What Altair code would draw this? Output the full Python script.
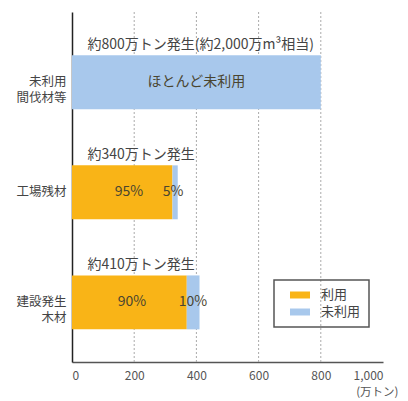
import altair as alt
import pandas as pd

categories = ["未利用|間伐材等", "工場残材", "建設発生|木材"]
used = [0, 323, 369]
unused = [800, 17, 41]
status = ["利用", "未利用"]
colors = ["#F9B417", "#A8C8EC"]

total_labels = ["約800万トン発生(約2,000万m³相当)", "約340万トン発生", "約410万トン発生"]
total_label_x = [50, 50, 50]

inner_cats = [categories[0], categories[1], categories[1], categories[2], categories[2]]
inner_texts = ["ほとんど未利用", "95%", "5%", "90%", "10%"]
inner_x = [400, 183, 325, 193, 389]

grid_values = [200, 400, 600, 800]
x_ticks = [0, 200, 400, 600, 800, 1000]

FONT = "Noto Sans CJK JP"

rows = []
for i, c in enumerate(categories):
    rows.append({"category": c, "status": status[0], "value": used[i], "ord": 0})
    rows.append({"category": c, "status": status[1], "value": unused[i], "ord": 1})
bars_df = pd.DataFrame(rows)
tot_df = pd.DataFrame({"category": categories, "text": total_labels, "x": total_label_x})
inner_df = pd.DataFrame({"category": inner_cats, "text": inner_texts, "x": inner_x})
grid_df = pd.DataFrame({"x": grid_values})

x_scale = alt.Scale(domain=[0, 1000], nice=False)
x_axis = alt.Axis(values=x_ticks, format=",d", grid=False, ticks=False,
                  domainColor="#555", domainWidth=1.5,
                  labelFont=FONT, labelFontSize=12, labelColor="#555", labelPadding=8,
                  title="(万トン)", titleFont=FONT, titleFontSize=11.5, titleFontWeight="normal",
                  titleColor="#555", titleAnchor="end", titleAlign="right",
                  titleBaseline="middle", titleX=326, titleY=30)
y_scale = alt.Scale(domain=categories, paddingInner=0.51, paddingOuter=0.345, align=0.57)
y_axis = alt.Axis(title=None, labelExpr="split(datum.label, '|')", ticks=False,
                  domainColor="#222", domainWidth=1.5, labelFont=FONT, labelFontSize=12.5,
                  labelColor="#444", labelPadding=6, labelLineHeight=16, labelAlign="right",
                  labelBaseline="middle")
y_enc = alt.Y("category:N", sort=categories, scale=y_scale, axis=y_axis)

grid = alt.Chart(grid_df).mark_rule(strokeDash=[2, 2], color="#aaa", strokeWidth=1).encode(
    x=alt.X("x:Q", scale=x_scale, axis=x_axis)
)

bars = alt.Chart(bars_df).mark_bar().encode(
    x=alt.X("value:Q", scale=x_scale, axis=x_axis, stack="zero"),
    y=y_enc,
    order=alt.Order("ord:Q"),
    color=alt.Color("status:N", scale=alt.Scale(domain=status, range=colors),
                    legend=alt.Legend(title=None, orient="none", legendX=202, legendY=268,
                                      strokeColor="#555", padding=8,
                                      symbolType="M-1,-0.35H1V0.35H-1Z", symbolSize=400,
                                      clipHeight=14,
                                      symbolStrokeWidth=0, symbolOffset=8, labelOffset=11,
                                      labelFont=FONT, labelFontSize=13, labelColor="#444",
                                      rowPadding=3)),
)

tot = alt.Chart(tot_df).mark_text(align="left", baseline="middle", dy=-37, fontSize=14,
                                  font=FONT, color="#444").encode(
    x=alt.X("x:Q", scale=x_scale, axis=x_axis), y=y_enc, text="text:N")

inner = alt.Chart(inner_df).mark_text(align="center", baseline="middle", fontSize=14,
                                      font=FONT, color="#4a4530").encode(
    x=alt.X("x:Q", scale=x_scale, axis=x_axis), y=y_enc, text="text:N")

chart = alt.layer(grid, bars, tot, inner).properties(
    width=311, height=350,
    padding={"left": 64, "top": 4, "right": 16, "bottom": 37},
    autosize=alt.AutoSizeParams(type="none"),
    background="white",
).configure_view(stroke=None).configure_legend(strokeWidth=1.5)

chart.save("out.html", embed_options={"renderer": "svg", "actions": False})
